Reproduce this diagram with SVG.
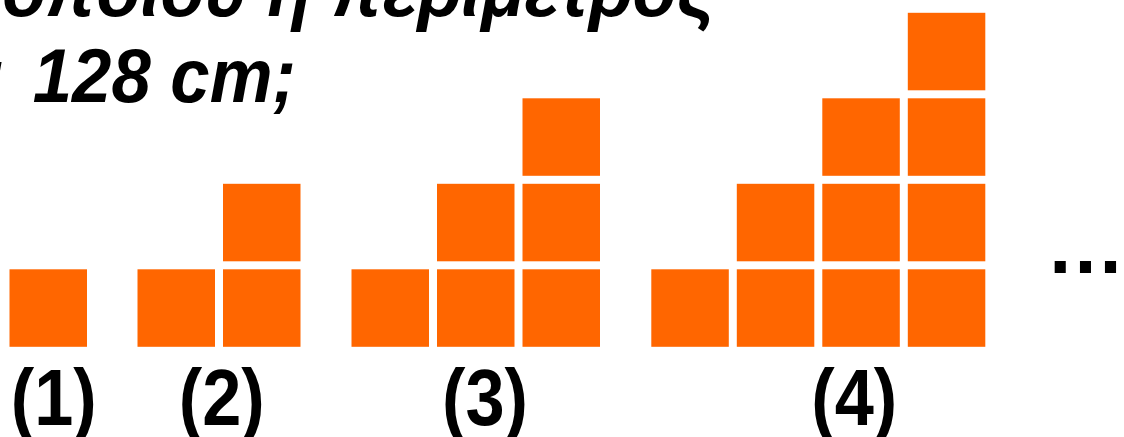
<svg xmlns="http://www.w3.org/2000/svg" xmlns:xlink="http://www.w3.org/1999/xlink" width="1124" height="437" viewBox="0 0 1124 437">
<style>
.q{font-family:"Liberation Sans",Arial,sans-serif;font-weight:bold;font-style:italic;font-size:76px;fill:#000;text-anchor:end}
.lab{font-family:"Liberation Sans",Arial,sans-serif;font-weight:bold;font-size:79px;fill:#000;text-anchor:middle}
.sq{fill:#FF6600}
</style>
<defs>
<rect id="s" class="sq" width="77.5" height="77.5"/>
</defs>
<rect width="1124" height="437" fill="#fff"/>
<g id="question">
<text class="q" transform="translate(715,15.5) scale(0.95,1)">οποίου η περίμετρος</text>
<text class="q" transform="translate(296,101.7) scale(0.93,1)"><tspan x="-315" y="0">είναι</tspan><tspan x="0" y="0">128 cm;</tspan></text>
</g>
<g id="fig1">
<use xlink:href="#s" x="9.5" y="269.3"/>
</g>
<g id="fig2">
<use xlink:href="#s" x="137.5" y="269.3"/>
<use xlink:href="#s" x="223" y="269.3"/>
<use xlink:href="#s" x="223" y="183.8"/>
</g>
<g id="fig3">
<use xlink:href="#s" x="351.5" y="269.3"/>
<use xlink:href="#s" x="437" y="269.3"/>
<use xlink:href="#s" x="522.5" y="269.3"/>
<use xlink:href="#s" x="437" y="183.8"/>
<use xlink:href="#s" x="522.5" y="183.8"/>
<use xlink:href="#s" x="522.5" y="98.3"/>
</g>
<g id="fig4">
<use xlink:href="#s" x="651.3" y="269.3"/>
<use xlink:href="#s" x="736.8" y="269.3"/>
<use xlink:href="#s" x="822.3" y="269.3"/>
<use xlink:href="#s" x="907.8" y="269.3"/>
<use xlink:href="#s" x="736.8" y="183.8"/>
<use xlink:href="#s" x="822.3" y="183.8"/>
<use xlink:href="#s" x="907.8" y="183.8"/>
<use xlink:href="#s" x="822.3" y="98.3"/>
<use xlink:href="#s" x="907.8" y="98.3"/>
<use xlink:href="#s" x="907.8" y="12.8"/>
</g>
<g id="labels">
<text class="lab" transform="translate(53.8,425) scale(0.89,1)">(1)</text>
<text class="lab" transform="translate(221.7,425) scale(0.89,1)">(2)</text>
<text class="lab" transform="translate(485,425) scale(0.89,1)">(3)</text>
<text class="lab" transform="translate(854.3,425) scale(0.89,1)">(4)</text>
</g>
<g id="ellipsis">
<text class="lab" x="1085.6" y="273.3" font-size="75">…</text>
</g>
</svg>
